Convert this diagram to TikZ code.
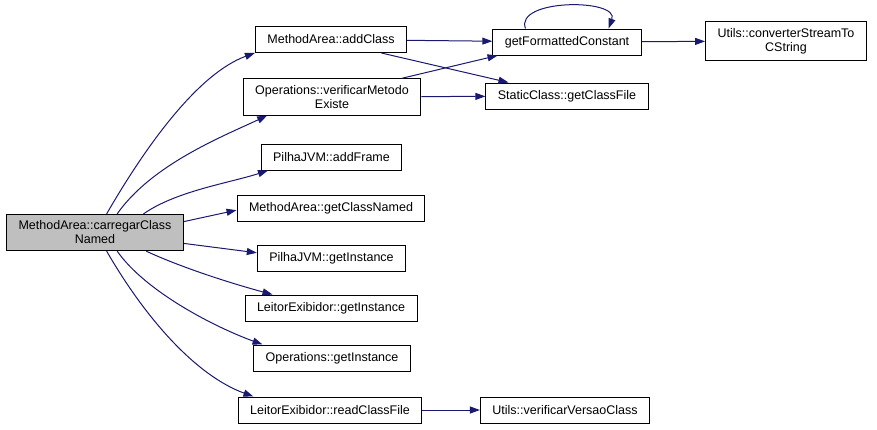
\documentclass[tikz,border=0pt]{standalone}
\usepackage{fontspec}
\setmainfont{Liberation Sans}
\usepackage{xcolor}
\usetikzlibrary{arrows.meta}

\definecolor{edgeblue}{HTML}{191970}

\begin{document}
\begin{tikzpicture}[
    x=1pt, y=1pt,
    every node/.style={
        rectangle,
        draw,
        line width=1pt,
        align=center,
        inner xsep=12pt,
        inner ysep=6.5pt,
        minimum height=26pt,
        font=\fontsize{12.5}{14}\selectfont
    },
    caller/.style={fill=black!25},
    call/.style={draw=edgeblue, line width=1pt, -{Triangle[length=10pt,width=7pt]}}
]
\useasboundingbox (0,0) rectangle (877,-429);

% Caller node
\node[caller] (carregar) at (95,-232.5) {MethodArea::carregarClass\\Named};

% Called functions
\node (addClass) at (331,-39.5) {MethodArea::addClass};
\node (verificar) at (332,-97) {Operations::verificarMetodo\\Existe};
\node (addFrame) at (331.5,-157) {PilhaJVM::addFrame};
\node (getClassNamed) at (331,-208.5) {MethodArea::getClassNamed};
\node (pilhaInstance) at (331.5,-258) {PilhaJVM::getInstance};
\node (leitorInstance) at (331,-308) {LeitorExibidor::getInstance};
\node (opsInstance) at (332,-358) {Operations::getInstance};
\node (readClassFile) at (330,-410) {LeitorExibidor::readClassFile};

% Second level
\node (getFormatted) at (567,-42) {getFormattedConstant};
\node (getClassFile) at (567,-96) {StaticClass::getClassFile};
\node (verificarVersao) at (565,-410) {Utils::verificarVersaoClass};
\node (converter) at (786,-41) {Utils::converterStreamTo\\CString};

% Calls from the caller
\draw[call] (carregar.58) .. controls +(60:80) and +(200:60) .. (addClass.190);
\draw[call] (carregar.40) .. controls +(55:60) and +(205:50) .. (verificar.196);
\draw[call] (carregar.21) .. controls +(35:40) and +(198:40) .. (addFrame.192);
\draw[call] (carregar.7) -- (getClassNamed.181);
\draw[call] (carregar.-7) -- (pilhaInstance.176);
\draw[call] (carregar.-20) .. controls +(-25:40) and +(165:40) .. (leitorInstance.167);
\draw[call] (carregar.-40) .. controls +(-55:50) and +(160:50) .. (opsInstance.169);
\draw[call] (carregar.-58) .. controls +(-60:80) and +(160:60) .. (readClassFile.170);

% Further calls
\draw[call] (addClass) -- (getFormatted);
\draw[call] (addClass.-15) -- (getClassFile.167);
\draw[call] (verificar.15) -- (getFormatted.191);
\draw[call] (verificar) -- (getClassFile);
\draw[call] (getFormatted.162) .. controls +(110:32) and +(70:32) .. (getFormatted.18);
\draw[call] (getFormatted) -- (converter);
\draw[call] (readClassFile) -- (verificarVersao);

\end{tikzpicture}
\end{document}
